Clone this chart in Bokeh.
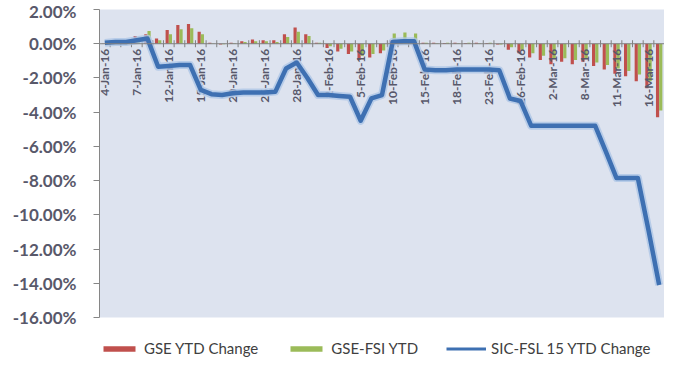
import math
from bokeh.plotting import figure
from bokeh.layouts import column
from bokeh.models import (ColumnDataSource, FactorRange, Range1d, FixedTicker,
                          PrintfTickFormatter, Span, Legend, LegendItem)
from bokeh.transform import dodge
from bokeh.core.properties import value
from bokeh.embed import file_html
from bokeh.resources import INLINE

dates = ["4-Jan-16", "5-Jan-16", "6-Jan-16", "7-Jan-16", "8-Jan-16",
         "11-Jan-16", "12-Jan-16", "13-Jan-16", "14-Jan-16", "15-Jan-16",
         "18-Jan-16", "19-Jan-16", "20-Jan-16", "21-Jan-16", "22-Jan-16",
         "25-Jan-16", "26-Jan-16", "27-Jan-16", "28-Jan-16", "29-Jan-16",
         "1-Feb-16", "2-Feb-16", "3-Feb-16", "4-Feb-16", "5-Feb-16",
         "8-Feb-16", "9-Feb-16", "10-Feb-16", "11-Feb-16", "12-Feb-16",
         "15-Feb-16", "16-Feb-16", "17-Feb-16", "18-Feb-16", "19-Feb-16",
         "22-Feb-16", "23-Feb-16", "24-Feb-16", "25-Feb-16", "26-Feb-16",
         "29-Feb-16", "1-Mar-16", "2-Mar-16", "3-Mar-16", "4-Mar-16",
         "8-Mar-16", "9-Mar-16", "10-Mar-16", "11-Mar-16",
         "14-Mar-16", "15-Mar-16", "16-Mar-16", "17-Mar-16"]

gse_ytd = [0.02, 0.05, 0.10, 0.45, 0.55, 0.30, 0.80, 1.10, 1.15, 0.70,
           0.05, -0.05, 0.05, 0.15, 0.25, 0.20, 0.20, 0.55, 0.95, 0.55,
           0.05, -0.25, -0.45, -0.60, -0.95, -0.80, -0.55, 0.20, 0.25, 0.20,
           0.05, 0.05, 0.04, 0.05, 0.04, 0.05, 0.04, -0.05, -0.35, -0.55,
           -0.80, -0.95, -1.20, -1.05, -1.20, -1.05, -1.30, -1.50, -1.75,
           -1.90, -2.20, -2.60, -4.30]

gse_fsi = [0.03, 0.08, 0.12, 0.35, 0.75, 0.20, 0.55, 0.85, 0.90, 0.55,
           0.02, -0.03, 0.03, 0.10, 0.15, 0.15, 0.10, 0.40, 0.70, 0.45,
           0.05, -0.15, -0.30, -0.45, -0.70, -0.60, -0.40, 0.60, 0.65, 0.60,
           0.05, 0.03, 0.05, 0.03, 0.05, 0.03, 0.05, -0.05, -0.20, -0.35,
           -0.55, -0.70, -0.90, -0.85, -0.95, -0.90, -1.10, -1.25, -1.45,
           -1.60, -1.80, -2.20, -3.90]

sic_fsl = [0.05, 0.10, 0.10, 0.20, 0.30, -1.35, -1.30, -1.25, -1.25, -2.70,
           -2.95, -3.00, -2.90, -2.85, -2.85, -2.85, -2.80, -1.45, -1.10, -2.00,
           -3.00, -3.00, -3.05, -3.10, -4.50, -3.20, -3.00, 0.10, 0.15, 0.15,
           -1.50, -1.55, -1.55, -1.50, -1.50, -1.50, -1.50, -1.55, -3.20, -3.35,
           -4.80, -4.80, -4.80, -4.80, -4.80, -4.80, -4.80, -6.30, -7.85,
           -7.85, -7.85, -10.90, -14.10]

series_names = ["GSE YTD Change", "GSE-FSI YTD", "SIC-FSL 15 YTD Change"]
tick_labels = dates[::3]
y_ticks = [-16, -14, -12, -10, -8, -6, -4, -2, 0, 2]

RED, GREEN, BLUE = "#c0504d", "#9bbb59", "#3e70b2"
LABEL_COLOR = "#58586a"

src = ColumnDataSource(dict(date=dates, gse=gse_ytd, fsi=gse_fsi, sic=sic_fsl))
lab_src = ColumnDataSource(dict(x=tick_labels, y=[0] * len(tick_labels)))

p = figure(x_range=FactorRange(*dates), y_range=Range1d(-16, 2),
           width=664, height=330, output_backend="svg", toolbar_location=None,
           x_axis_location=None,
           min_border_left=99, min_border_right=0, min_border_top=9,
           min_border_bottom=13,
           background_fill_color="#dde3ef", border_fill_color="white",
           outline_line_color=None)
p.xgrid.visible = False
p.ygrid.visible = False

ax = p.yaxis[0]
ax.ticker = FixedTicker(ticks=y_ticks)
ax.formatter = PrintfTickFormatter(format="%.2f%%")
ax.major_label_text_font = "Lato"
ax.major_label_text_font_style = "bold"
ax.major_label_text_font_size = "17px"
ax.major_label_text_color = LABEL_COLOR
ax.axis_line_color = "#868686"
ax.major_tick_line_color = "#868686"
ax.major_tick_out = 6
ax.major_tick_in = 0
ax.minor_tick_line_color = None
ax.major_label_standoff = 17

p.vbar(x=dodge("date", -0.15, range=p.x_range), top="gse", width=0.3,
       source=src, fill_color=RED, line_color=None)
p.vbar(x=dodge("date", 0.15, range=p.x_range), top="fsi", width=0.3,
       source=src, fill_color=GREEN, line_color=None)

p.add_layout(Span(location=0, dimension="width", line_color="#808080", line_width=1))
p.scatter(x=dodge("date", -0.5, range=p.x_range), y=0, source=src, marker="dash",
          angle=math.pi / 2, size=7, line_color="#808080")

p.text(x="x", y="y", text="x", source=lab_src, angle=math.pi / 2,
       text_align="right", text_baseline="middle", y_offset=5,
       text_font=value("Lato"), text_font_size="12px", text_font_style="bold",
       text_color=LABEL_COLOR)

p.line(x="date", y="sic", source=src, line_color="#aec6e6", line_width=8,
       line_join="round", line_alpha=0.8)
p.line(x="date", y="sic", source=src, line_color=BLUE, line_width=4.5,
       line_join="round")

# legend row, as its own strip under the chart
lg = figure(width=664, height=30, output_backend="svg", toolbar_location=None,
            x_axis_location=None, y_axis_location=None,
            min_border_left=0, min_border_right=0, min_border_top=0,
            min_border_bottom=0, outline_line_color=None,
            background_fill_color="white", border_fill_color="white")
lg.xgrid.visible = False
lg.ygrid.visible = False
blank = ColumnDataSource(dict(x=[float("nan")], y=[float("nan")]))
l_red = lg.vbar(x="x", top="y", width=1, source=blank, fill_color=RED, line_color=None)
l_green = lg.vbar(x="x", top="y", width=1, source=blank, fill_color=GREEN, line_color=None)
l_blue = lg.line(x="x", y="y", source=blank, line_color=BLUE, line_width=3)

legend = Legend(items=[LegendItem(label=series_names[0], renderers=[l_red]),
                       LegendItem(label=series_names[1], renderers=[l_green]),
                       LegendItem(label=series_names[2], renderers=[l_blue])],
                orientation="horizontal", location=(0, 3),
                glyph_width=40, glyph_height=7, label_height=17,
                label_standoff=5, spacing=28, padding=0, margin=0,
                label_text_font="Lato", label_text_font_size="15px",
                label_text_color="#404040",
                border_line_color=None, background_fill_alpha=0)
lg.add_layout(legend)

layout = column(p, lg, spacing=0)
open("out.html", "w").write(file_html(layout, INLINE))
